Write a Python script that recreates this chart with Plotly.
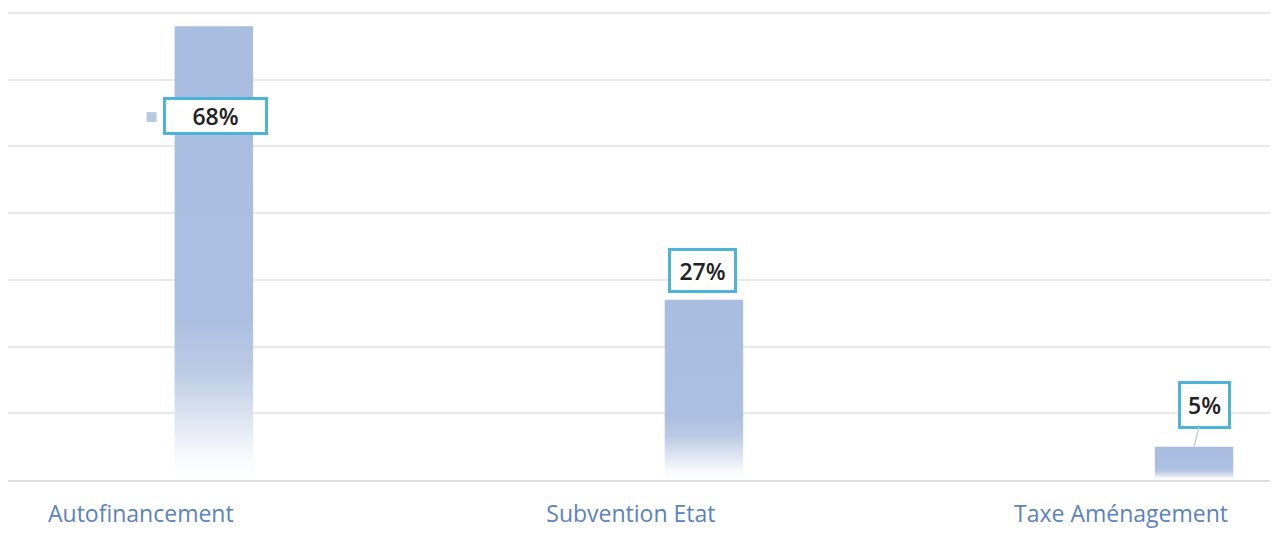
import plotly.graph_objects as go

categories = ["Autofinancement", "Subvention Etat", "Taxe Aménagement"]
values = [68, 27, 5]
labels = ["68%", "27%", "5%"]

bar_half = 0.08
# label box placement (pixel offsets from bar top) and box sizes
label_off = [(1.5, 90), (-1.5, -29.5), (10.5, -42)]
box_w = [93, 57, 41]
box_h = [26, 33, 36]
show_leader = [False, False, True]

fig = go.Figure()
for i, (c, v) in enumerate(zip(categories, values)):
    xs = [i - bar_half, i + bar_half, i + bar_half, i - bar_half, i - bar_half]
    ys = [0, 0, v, v, 0]
    fig.add_trace(go.Scatter(
        x=xs, y=ys, mode="lines", fill="toself", line=dict(width=0),
        fillgradient=dict(type="vertical",
                          colorscale=[[0, "rgba(255,255,255,1)"], [0.04, "#fbfcfe"],
                                      [0.14, "#dce4f1"], [0.24, "#bccbe5"], [0.36, "#aabfe1"],
                                      [1, "#a8bde0"]]),
        hoverinfo="skip", showlegend=False))
    ax, ay = label_off[i]
    fig.add_annotation(x=i, y=v, text=labels[i], showarrow=True, arrowhead=0,
                       arrowwidth=1.2,
                       arrowcolor="#b4c8dc" if show_leader[i] else "rgba(0,0,0,0)",
                       ax=ax, ay=ay, standoff=0,
                       font=dict(family="Open Sans", size=23, color="#222222", weight=600),
                       bgcolor="white", bordercolor="#4cb4d6", borderwidth=3,
                       borderpad=3, width=box_w[i], height=box_h[i])

# small marker left of the first label
fig.add_trace(go.Scatter(x=[-0.127], y=[values[0] * 0.8], mode="markers",
                         marker=dict(symbol="square", size=10, color="#b8c9e4"),
                         hoverinfo="skip", showlegend=False))

fig.update_layout(
    width=1271, height=531,
    margin=dict(l=0, r=9, t=2, b=59),
    paper_bgcolor="white", plot_bgcolor="white",
    xaxis=dict(range=[-0.42, 2.155], tickvals=[i - 0.149 for i in range(len(categories))],
               ticktext=categories, showgrid=False, zeroline=False,
               showline=True, linecolor="#dedede", linewidth=1.5,
               ticks="", ticklabelstandoff=13,
               tickfont=dict(family="Open Sans", size=23, color="#5b82bd")),
    yaxis=dict(range=[0, 70.45], dtick=10, showgrid=True, gridcolor="#e9e9e9",
               gridwidth=1.5, zeroline=False, showticklabels=False),
)

fig.write_html("out.html")
